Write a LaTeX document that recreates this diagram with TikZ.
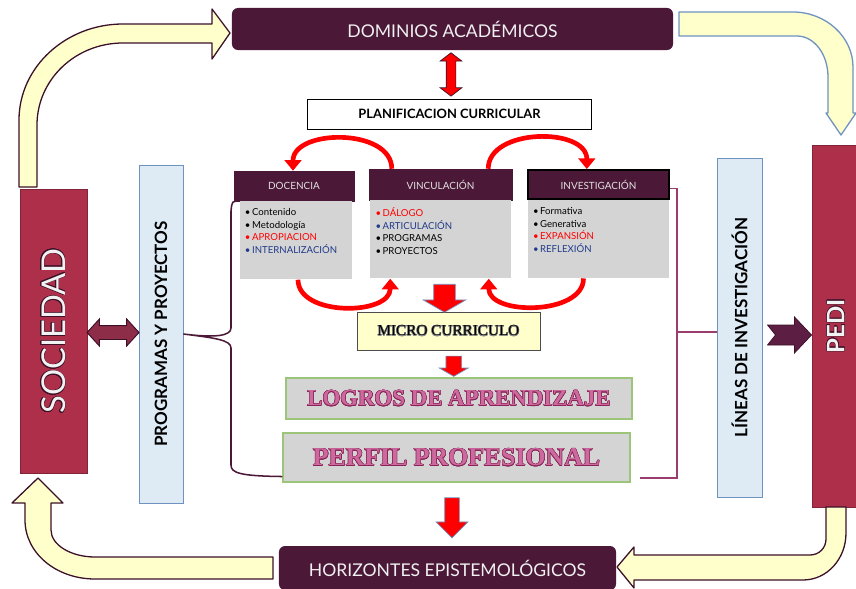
\documentclass[tikz,border=0pt]{standalone}
\usepackage{fontspec}
\setmainfont{Lato}
\newfontfamily\titlefont{Liberation Serif}
\usepackage{contour}
\usetikzlibrary{arrows.meta,positioning,calc,shapes.arrows}

\definecolor{wine}{HTML}{4B1838}
\definecolor{crimson}{HTML}{AE2F49}
\definecolor{cream}{HTML}{FFFFCC}
\definecolor{skyfill}{HTML}{DEEBF5}
\definecolor{skyline}{HTML}{6F93C0}
\definecolor{boxgray}{HTML}{D5D4D4}
\definecolor{leaf}{HTML}{9CC57A}
\definecolor{rosefill}{HTML}{CC6A9F}
\definecolor{roseline}{HTML}{8A2456}
\definecolor{navy}{HTML}{1F3A8A}
\definecolor{plum}{HTML}{9A3C6C}
\definecolor{inkline}{HTML}{3B1028}
\definecolor{plumred}{HTML}{8E2D48}
\definecolor{plumdark}{HTML}{5C1E42}
\contourlength{0.4pt}

\newcommand\itemlist[2]{\parbox[t][1.9cm][t]{#1}{\raggedright\fontsize{8.2}{10.7}\selectfont #2}}

\tikzset{
  winebox/.style={fill=wine, text=white!94!black, rounded corners=0.18cm, inner sep=0, font=\fontsize{15}{18}\selectfont},
  headbox/.style={draw=wine, fill=wine, text=white!88!black, inner sep=0, font=\fontsize{8.5}{10}\selectfont},
  bodybox/.style={fill=boxgray, anchor=north, inner xsep=0.15cm, inner ysep=0.22cm, minimum height=2.34cm, align=left},
  sidebox/.style={draw=skyline, fill=skyfill, line width=0.7pt, inner sep=0, rotate=90, font=\bfseries\fontsize{14.5}{16}\selectfont},
  bigred/.style={draw=crimson!75!black, fill=crimson, line width=0.8pt, inner sep=0, rotate=90, text=white!95!black},
  goalbox/.style={draw=leaf, fill=boxgray, line width=0.9pt, inner sep=0, text=rosefill},
  bendarrow/.style={red, line width=0.14cm, -{Triangle[width=0.5cm,length=0.32cm]}},
  dropper/.style={single arrow, shape border rotate=270, fill=red, draw=skyline, line width=0.6pt},
  turnarrow/.style={fill=cream, draw=inkline, line width=1.1pt, line join=round},
}

\begin{document}
\begin{tikzpicture}[x=0.03cm,y=-0.03cm]
  \useasboundingbox (0,0) rectangle (856,589);
  \fill[white] (0,0) rectangle (856,589);

  % top and bottom boxes
  \node[winebox, minimum width=13.23cm, minimum height=1.26cm] (dom) at (452.5,29) {DOMINIOS ACADÉMICOS};
  \node[draw, fill=white, line width=0.6pt, minimum width=8.52cm, minimum height=0.9cm, font=\bfseries\fontsize{11}{13}\selectfont] (plan) at (449.5,114) {PLANIFICACION CURRICULAR};
  \node[winebox, minimum width=10.11cm, minimum height=1.32cm] (hor) at (447.5,568) {HORIZONTES EPISTEMOLÓGICOS};

  % three columns
  \node[headbox, minimum width=3.6cm, minimum height=0.9cm] (doch) at (294,186) {DOCENCIA};
  \node[headbox, minimum width=4.29cm, minimum height=0.93cm] (vinch) at (440.5,184.5) {VINCULACIÓN};
  \node[headbox, draw=black, line width=1.6pt, minimum width=4.23cm, minimum height=0.87cm] (invh) at (598.5,184.5) {INVESTIGACIÓN};
  \node[bodybox, minimum width=3.36cm, below=0pt of doch, xshift=0.06cm] (docb) {\itemlist{3.06cm}{%
    •\,Contenido\\ •\,Metodología\\ \textcolor{red}{•\,APROPIACION}\\ \textcolor{navy}{•\,INTERNALIZACIÓN}}};
  \node[bodybox, minimum width=4.2cm, below=0pt of vinch] (vincb) {\itemlist{3.9cm}{%
    \textcolor{red}{•\,DÁLOGO}\\ \textcolor{navy}{•\,ARTICULACIÓN}\\ •\,PROGRAMAS\\ •\,PROYECTOS}};
  \node[bodybox, minimum width=4.23cm, below=0pt of invh] (invb) {\itemlist{3.93cm}{%
    •\,Formativa\\ •\,Generativa\\ \textcolor{red}{•\,EXPANSIÓN}\\ \textcolor{navy}{•\,REFLEXIÓN}}};

  % centre stack
  \node[draw=black!70, fill=cream, line width=0.8pt, minimum width=5.49cm, minimum height=1.14cm, font=\titlefont\fontsize{13}{15}\selectfont] (micro) at (448.5,331) {\contour{black!45}{MICRO CURRICULO}};
  \node[goalbox, minimum width=10.38cm, minimum height=1.23cm, font=\titlefont\bfseries\fontsize{19.5}{22}\selectfont] (logros) at (459,398.5) {\contour{roseline}{LOGROS DE APRENDIZAJE}};
  \node[goalbox, minimum width=10.41cm, minimum height=1.47cm, font=\titlefont\bfseries\fontsize{22}{24}\selectfont] (perfil) at (456.5,457.5) {\contour{roseline}{PERFIL PROFESIONAL}};

  % side columns
  \node[bigred, minimum width=8.52cm, minimum height=2.01cm, font=\fontsize{28}{30}\selectfont] (soc) at (53.5,331) {\contour{inkline}{SOCIEDAD}};
  \node[sidebox, minimum width=10.14cm, minimum height=1.32cm] (prog) at (161,334) {PROGRAMAS Y PROYECTOS};
  \node[sidebox, minimum width=10.17cm, minimum height=1.35cm] (lin) at (739.5,327.5) {LÍNEAS DE INVESTIGACIÓN};
  \node[bigred, minimum width=10.86cm, minimum height=1.44cm, font=\bfseries\fontsize{20.5}{22}\selectfont] (pedi) at (836,326) {\contour{inkline}{PEDI}};

  % straight block arrows
  \node[double arrow, shape border rotate=90, fill=red, draw=inkline, line width=0.6pt, inner sep=0.135cm, double arrow head extend=0.18cm, double arrow tip angle=105, minimum height=1.3cm] (updown) at ($(dom.south)!0.5!(plan.north)$) {};
  \node[dropper, inner sep=0.315cm, single arrow head extend=0.315cm, single arrow tip angle=120, minimum height=0.75cm] (drop1) at ($(vincb.south)!0.5!(micro.north)$) {};
  \node[dropper, inner sep=0.225cm, single arrow head extend=0.195cm, single arrow tip angle=120, minimum height=0.57cm] (drop2) at ($(micro.south)!0.5!(logros.north)$) {};
  \node[dropper, inner sep=0.21cm, single arrow head extend=0.255cm, single arrow tip angle=90, minimum height=1.2cm] (drop3) at ($(perfil.south)!0.5!(hor.north)$) {};
  \node[double arrow, fill=plumred, draw=inkline, line width=0.8pt, inner sep=0.195cm, double arrow head extend=0.195cm, double arrow tip angle=95, minimum height=1.56cm] (socprog) at ($(soc.south)!0.5!(prog.north)$) {};
  \draw[fill=plumdark, draw=inkline, line width=0.6pt] ([yshift=-0.27cm]pedi.north) -- ++(-17,-18) -- ++(0,8) -- ++(-27,0) -- ++(8,10) -- ++(-8,10) -- ++(27,0) -- ++(0,8) -- cycle;

  % curved red arrows
  \draw[bendarrow] ([xshift=0.69cm]vinch.north west) .. controls +(0,-41) and +(0,-42) .. ([xshift=-0.03cm]doch.north);
  \draw[bendarrow] ([xshift=-0.72cm]vinch.north east) .. controls +(0,-41) and +(0,-42) .. ([xshift=-0.35cm]invh.north);
  \draw[bendarrow] ([xshift=0.06cm]docb.south) .. controls +(0,37) and +(0,37) .. ([xshift=0.6cm]vincb.south west);
  \draw[bendarrow] ([xshift=-0.45cm]invb.south) .. controls +(0,37) and +(0,37) .. ([xshift=-0.66cm]vincb.south east);

  % brace and bracket
  \draw[wine, line width=1.3pt] (docb.north west) .. controls (232,201) .. (231,211) -- (231,328) .. controls (231,336) and (215,338) .. (prog.south)
    .. controls (215,338) and (231,340) .. (231,348) -- (231,465) .. controls (231,473) and (240,476) .. ([yshift=0.18cm]perfil.south west);
  \draw[plum, line width=1.3pt] ([yshift=-0.12cm]invh.east) -| (677,478) -- (640,478);
  \draw[plum, line width=1.3pt] ([yshift=-0.13cm]lin.north) -- ++(-40,0);

  % yellow turning arrows
  \draw[turnarrow] (19,187) -- (19,120) .. controls (19,67) and (66,24) .. (123,24) -- (212,24) -- (212,9) -- (230,33) -- (212,59) -- (212,43)
    -- (123,43) .. controls (75,43) and (37,80) .. (37,125) -- (37,187) -- cycle;
  \draw[turnarrow, draw=skyline] (679,12) -- (793,12) .. controls (826,12) and (853,37) .. (853,67) -- (853,113) -- (856,113) -- (841,135)
    -- (826,113) -- (828,113) -- (828,77) .. controls (828,54) and (814,36) .. (797,36) -- (679,36) -- cycle;
  \draw[turnarrow] (826,507) -- (846,507) -- (846,533) .. controls (846,559) and (827,580) .. (803,580) -- (634,580) -- (634,588) -- (617,567)
    -- (634,547) -- (634,555) -- (810,555) .. controls (819,555) and (826,548) .. (826,539) -- cycle;
  \draw[turnarrow] (273,557) -- (95,557) .. controls (71,557) and (51,545) .. (51,530) -- (51,503) -- (63,503) -- (38,478) -- (12,503)
    -- (25,503) -- (25,520) .. controls (25,553) and (56,579) .. (95,579) -- (273,579) -- cycle;
\end{tikzpicture}
\end{document}
